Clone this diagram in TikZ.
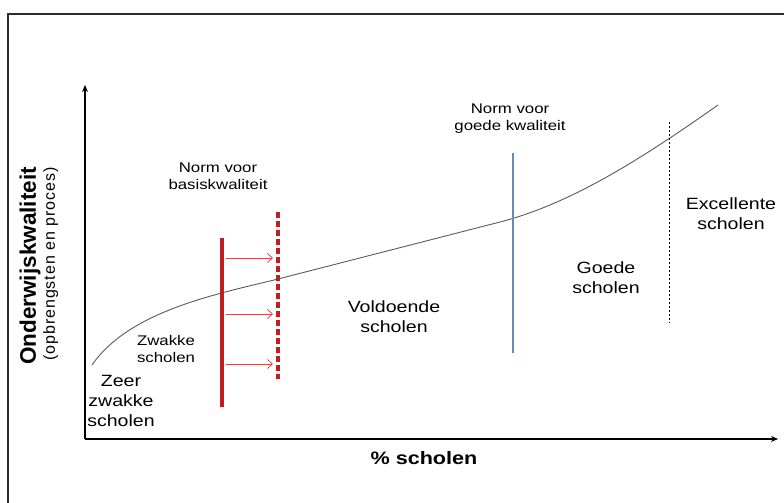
\documentclass[tikz,border=0pt]{standalone}
\usepackage{fontspec}
\setmainfont{Liberation Sans}[FakeStretch=1.2]
\newfontfamily\plainfont{Liberation Sans}
\usetikzlibrary{arrows.meta}
\definecolor{redcolor}{RGB}{192,30,36}
\definecolor{arrowcolor}{RGB}{200,80,80}
\definecolor{bluecolor}{RGB}{104,140,178}
\definecolor{curvecolor}{RGB}{90,90,90}
\definecolor{framecolor}{RGB}{45,45,45}

\begin{document}
\begin{tikzpicture}[x=1pt,y=-1pt,
  big/.style={align=center,font=\fontsize{16.3}{20}\selectfont,inner sep=0pt},
  small/.style={align=center,font=\fontsize{14}{17}\selectfont,inner sep=0pt}]

\useasboundingbox (0,0) rectangle (784,503);
\draw[color=framecolor,line width=1.2pt] (784,14) -- (8,14) -- (8,503);

% axes
\coordinate (O) at (85,439);
\coordinate (ytop) at (85,85);
\coordinate (xend) at (778,439);
\draw[line width=2pt,-{Stealth[length=7pt,width=6pt]}] (O) -- (ytop);
\draw[line width=2pt,-{Stealth[length=7pt,width=6pt]}] (O) -- (xend);

% quality curve
\draw[color=curvecolor,line width=0.9pt] (92,365) .. controls (130,310) and (220,293.5) .. (278,279)
  -- (500,222) .. controls (570,204) and (640,160) .. (718,105);

% norms
\coordinate (Ba) at (222,238);
\coordinate (Bb) at (222,407);
\coordinate (Na) at (278,212);
\coordinate (Nb) at (278,379);
\coordinate (Ga) at (513,153);
\coordinate (Gb) at (513,353);
\coordinate (Ea) at (669,122);
\coordinate (Eb) at (669,323);
\draw[color=redcolor,line width=3.3pt] (Ba) -- (Bb);
\draw[color=redcolor,line width=3.3pt,dash pattern=on 6pt off 3pt] (Na) -- (Nb);
\draw[color=bluecolor,line width=2pt] (Ga) -- (Gb);
\draw[line width=0.7pt,dash pattern=on 2pt off 2pt] (Ea) -- (Eb);
\foreach \y in {258,314,364}
  \draw[color=arrowcolor,line width=0.8pt,-{Straight Barb[length=5pt,width=9pt]}] ([xshift=4pt]Ba |- 0,\y) -- ([xshift=-5pt]Na |- 0,\y);

\begin{scope}[every node/.style=big]
\node (zeer) at (121,401) {Zeer\\zwakke\\scholen};
\node (vold) at (394,317) {Voldoende\\scholen};
\node (goed) at (606,278) {Goede\\scholen};
\node (exc) at (731,214) {Excellente\\scholen};
\end{scope}
\begin{scope}[every node/.style=small]
\node (zwak) at (166,349) {Zwakke\\scholen};
\node (basis) at (218,176) {Norm voor\\basiskwaliteit};
\node (gkw) at (510,119) {Norm voor\\goede kwaliteit};
\end{scope}

\node[font=\bfseries\fontsize{18}{20}\selectfont] (xlab) at (424,458) {\% scholen};
\node[rotate=90,font=\plainfont\bfseries\fontsize{22.5}{24}\selectfont] (ylab) at (30,266) {Onderwijskwaliteit};
\node[rotate=90,font=\plainfont\fontsize{16}{18}\selectfont,
      text depth=0pt] (ysub) at (49,264) {\addfontfeature{LetterSpace=6}(opbrengsten en proces)};
\end{tikzpicture}
\end{document}
